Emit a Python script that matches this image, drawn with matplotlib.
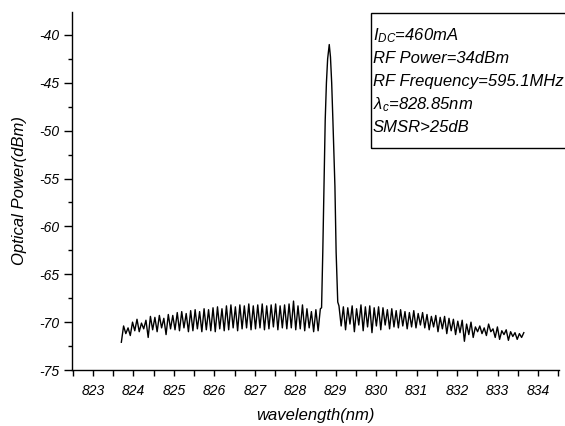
import matplotlib
matplotlib.use('Agg')
import matplotlib.pyplot as plt
import matplotlib.ticker as tck
from matplotlib.patches import Rectangle
import numpy as np

# ---------- DATA ----------
# left side-mode ripple, 823.70 -> 828.62 nm, alternating trough / peak
left_start, left_end = 823.70, 828.62
left_power = [
    -72.1, -70.4, -71.2, -70.6, -71.4, -70.0, -70.9, -69.7, -71.0, -70.1,
    -70.7, -69.8, -71.6, -69.4, -70.8, -69.5, -71.0, -69.3, -70.6, -69.6,
    -71.3, -69.2, -70.7, -69.3, -70.8, -69.0, -70.9, -68.9, -70.6, -69.1,
    -71.0, -68.8, -70.9, -68.7, -70.7, -68.9, -71.0, -68.6, -70.8, -68.7,
    -70.9, -68.5, -71.0, -68.4, -70.7, -68.6, -70.9, -68.3, -70.8, -68.2,
    -70.6, -68.4, -70.9, -68.2, -70.7, -68.3, -70.6, -68.1, -70.8, -68.3,
    -70.7, -68.2, -70.6, -68.1, -70.8, -68.3, -70.7, -68.2, -70.5, -68.1,
    -70.8, -68.3, -70.6, -68.2, -70.7, -68.1, -70.6, -67.8, -70.8, -68.3,
    -70.7, -68.2, -70.9, -68.6, -70.6, -68.9, -71.0, -68.7, -70.9, -68.6,
]

# main lasing mode
peak_wl = [828.65, 828.68, 828.71, 828.74, 828.77, 828.80, 828.84,
           828.87, 828.90, 828.93, 828.98, 829.01, 829.05]
peak_power = [-68.5, -62.7, -55.8, -48.9, -45.0, -42.5, -41.0,
              -42.3, -45.0, -48.9, -55.8, -62.7, -67.9]

# right side-mode ripple, 829.08 -> 833.65 nm
right_start, right_end = 829.08, 833.65
right_power = [
    -68.3, -70.4, -68.4, -70.8, -68.5, -70.2, -68.3, -71.0, -68.6, -70.3,
    -68.2, -70.9, -68.4, -70.5, -68.3, -71.1, -68.5, -70.4, -68.4, -70.8,
    -68.5, -70.3, -68.7, -70.7, -68.6, -70.5, -68.8, -70.6, -68.7, -70.4,
    -68.9, -70.7, -69.0, -70.5, -68.8, -70.6, -69.1, -70.3, -69.0, -70.6,
    -69.2, -70.8, -69.4, -70.5, -69.3, -71.0, -69.5, -70.7, -69.4, -71.2,
    -69.6, -70.9, -69.7, -71.3, -69.9, -71.1, -69.8, -72.0, -70.2, -71.3,
    -70.0, -71.6, -70.5, -71.0, -70.4, -71.2, -70.6, -71.4, -70.2, -71.0,
    -70.7, -71.6, -70.5, -71.8, -70.9, -71.3, -70.8, -71.9, -71.0, -71.5,
    -71.1, -71.8, -71.2, -71.6, -71.1,
]

info_lines = ['$I_{DC}$=460mA', 'RF Power=34dBm', 'RF Frequency=595.1MHz',
              'λ$_c$=828.85nm', 'SMSR>25dB']

# equally spaced OSA samples on each ripple segment
left_wl = np.linspace(left_start, left_end, len(left_power))
right_wl = np.linspace(right_start, right_end, len(right_power))
wl = np.concatenate([left_wl, peak_wl, right_wl])
power = np.concatenate([left_power, peak_power, right_power])

# ---------- PLOTTING ----------
plt.rc('font', family='Liberation Sans', style='italic')
plt.rc('mathtext', fontset='custom', rm='Liberation Sans:italic',
       it='Liberation Sans:italic')

fig = plt.figure(figsize=(5.65, 4.26), dpi=100)
ax = fig.add_axes([72/565, 1 - 370/426, 487/565, 358/426])

ax.plot(wl, power, color='black', linewidth=1.0)

ax.set_xlim(822.48, 834.52)
ax.set_ylim(-75, -37.6)
ax.xaxis.set_major_locator(tck.MultipleLocator(1))
ax.xaxis.set_minor_locator(tck.MultipleLocator(0.5))
ax.yaxis.set_major_locator(tck.MultipleLocator(5))
ax.yaxis.set_minor_locator(tck.MultipleLocator(2.5))
ax.xaxis.set_major_formatter(tck.FormatStrFormatter('%d'))
ax.yaxis.set_major_formatter(tck.FormatStrFormatter('%d'))

for s in ['top', 'right']:
    ax.spines[s].set_visible(False)
for s in ['left', 'bottom']:
    ax.spines[s].set_linewidth(1.0)

ax.tick_params(axis='x', which='major', length=4, width=1, pad=6, labelsize=10)
ax.tick_params(axis='x', which='minor', length=4, width=1)
ax.tick_params(axis='y', which='major', length=6, width=1, pad=3, labelsize=10)
ax.tick_params(axis='y', which='minor', length=3, width=1)

ax.set_xlabel('wavelength(nm)', fontsize=12, labelpad=7)
ax.set_ylabel('Optical Power(dBm)', fontsize=12, labelpad=9)

# parameter box, running off the right edge as in the original
box = Rectangle((0.614, 0.620), 0.5, 0.377, transform=ax.transAxes,
                fill=False, edgecolor='black', linewidth=1.0, clip_on=False)
ax.add_patch(box)
for i, line in enumerate(info_lines):
    ax.text(0.618, 0.935 - i * 0.0645, line, transform=ax.transAxes,
            fontsize=12, va='center', ha='left')

fig.savefig('out.png', dpi=100)
